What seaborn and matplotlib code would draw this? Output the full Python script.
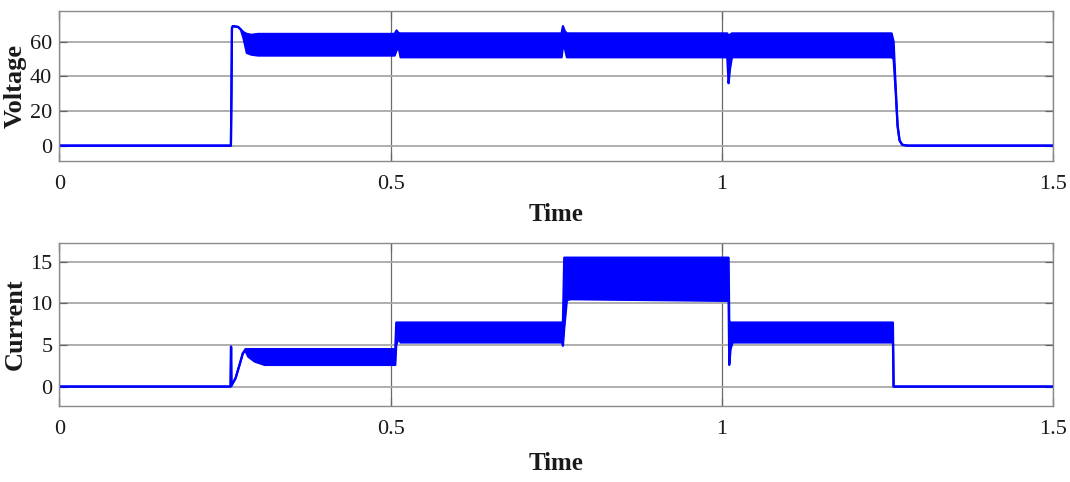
"""Voltage / current response of the converter under stepped load (two stacked panels)."""

import matplotlib
import numpy as np
import pandas as pd
import seaborn as sns

matplotlib.use("Agg")
import matplotlib.pyplot as plt

# ---- data: breakpoint times with the upper and lower
# ---- envelope of the switching ripple (upper == lower where the trace is a single line)
volt_t = [0.0, 0.2590, 0.2598, 0.2606, 0.2620, 0.2700, 0.2740, 0.2780, 0.2830, 0.2900,
          0.3000, 0.5060, 0.5090, 0.5120, 0.5150, 0.7580, 0.7600, 0.7630, 0.7660, 1.0080,
          1.0100, 1.0120, 1.0150, 1.2560, 1.2590, 1.2620, 1.2650, 1.2680, 1.2720, 1.2800, 1.5]
volt_hi = [0, 0, 30, 68, 69, 68.5, 67, 65.5, 64.5, 64, 64.5, 64.5, 66.5, 65, 64.8, 64.8,
           69, 66, 64.8, 64.8, 63, 64, 64.8, 64.8, 60, 35, 12, 3, 0.5, 0, 0]
volt_lo = [0, 0, 30, 68, 69, 68.5, 67, 62, 53.5, 52.5, 52, 52, 55, 57, 51, 51,
           57, 56, 51, 51, 36, 44, 51, 51, 50, 32, 11, 3, 0.5, 0, 0]

curr_t = [0.0, 0.2585, 0.2592, 0.2598, 0.2610, 0.2660, 0.2720, 0.2770, 0.2810, 0.2850,
          0.2950, 0.3100, 0.5070, 0.5085, 0.5120, 0.5150, 0.7590, 0.7600, 0.7620, 0.7660,
          0.7720, 1.0100, 1.0110, 1.0130, 1.0160, 1.2580, 1.2590, 1.5]
curr_hi = [0, 0, 4.8, 0.1, 0.3, 1.0, 2.6, 4.0, 4.5, 4.5, 4.5, 4.5, 4.5, 7.7, 7.7, 7.7,
           7.7, 7.7, 15.5, 15.5, 15.5, 15.5, 7.9, 7.7, 7.7, 7.7, 0, 0]
curr_lo = [0, 0, 4.8, 0.1, 0.3, 1.0, 2.6, 4.0, 4.3, 3.6, 3.0, 2.6, 2.6, 5.0, 5.8, 5.3,
           5.3, 4.9, 7.0, 10.4, 10.5, 10.3, 2.6, 4.5, 5.3, 5.3, 0, 0]

x_ticks = [0, 0.5, 1, 1.5]
x_tick_labels = ["0", "0.5", "1", "1.5"]
volt_ticks = [0, 20, 40, 60]
curr_ticks = [0, 5, 10, 15]

TRACE = "#0000ff"

sns.set_theme(style="whitegrid")
plt.rcParams["font.family"] = ["Liberation Serif", "DejaVu Serif"]

fig = plt.figure(figsize=(10.7, 4.82), dpi=100)
ax_v = fig.add_axes([0.0554, 0.6666, 0.929, 0.3112])
ax_c = fig.add_axes([0.0554, 0.1583, 0.929, 0.3382])


def draw_panel(ax, t, hi, lo, ylim, yticks, ylabel, xlabel_pad):
    df = pd.DataFrame({"t": t, "hi": hi, "lo": lo})
    ax.fill_between(df["t"], df["lo"], df["hi"], color=TRACE, lw=0)
    sns.lineplot(data=df, x="t", y="hi", ax=ax, color=TRACE, lw=1.6,
                 estimator=None, sort=False)
    sns.lineplot(data=df, x="t", y="lo", ax=ax, color=TRACE, lw=1.6,
                 estimator=None, sort=False)

    ax.set_xlim(0, 1.5)
    ax.set_ylim(*ylim)
    ax.set_xticks(x_ticks, x_tick_labels)
    ax.set_yticks(yticks, [str(v) for v in yticks])

    ax.set_facecolor("white")
    ax.grid(False)
    ax.yaxis.grid(True, color="#a8a8a8", lw=1.3)
    ax.xaxis.grid(True, color="#6a6a6a", lw=0.9)
    for side in ax.spines.values():
        side.set_visible(True)
        side.set_color("#8a8a8a")
        side.set_linewidth(1.0)

    ax.tick_params(axis="both", direction="in", length=6, width=0.9, color="#666666",
                   labelsize=16, labelcolor="#1a1a1a")
    ax.tick_params(axis="y", left=True, right=True, pad=5)
    ax.tick_params(axis="x", bottom=True, top=True, pad=10)

    ax.set_xlabel("Time", fontsize=18, fontweight="bold", color="#1a1a1a",
                  labelpad=xlabel_pad)
    ax.set_ylabel(ylabel, fontsize=19, fontweight="bold", color="#1a1a1a")
    ax.yaxis.set_label_coords(-0.033, 0.5)


draw_panel(ax_v, volt_t, volt_hi, volt_lo, (-8.7, 77.9), volt_ticks, "Voltage", 7)
draw_panel(ax_c, curr_t, curr_hi, curr_lo, (-2.3, 17.3), curr_ticks, "Current", 10)

fig.savefig("out.png", dpi=100, facecolor="white")
plt.close(fig)
